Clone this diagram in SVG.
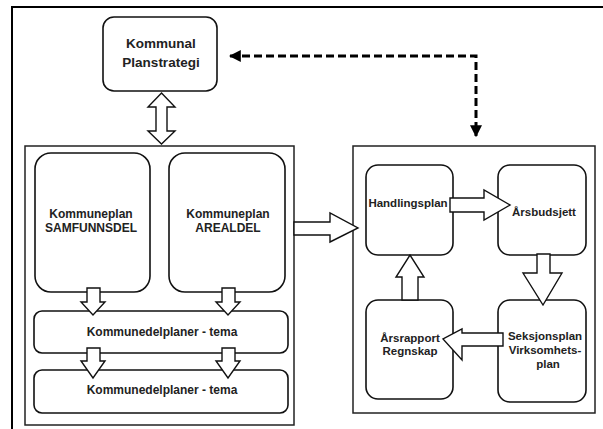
<svg xmlns="http://www.w3.org/2000/svg" width="603" height="429" viewBox="0 0 603 429">
<defs>
<style>
.frame{fill:none;stroke:#000}
.panel{fill:#fff;stroke:#222;stroke-width:1.5}
.box{fill:#fff;stroke:#111;stroke-width:1.6}
.blk{fill:#fff;stroke:#111;stroke-width:1.4;stroke-linejoin:miter}
.dash{fill:none;stroke:#000;stroke-width:3;stroke-dasharray:8 4}
text{font-family:"Liberation Sans",Arial,sans-serif;font-weight:bold;font-size:12px;fill:#222;text-anchor:middle}
.t13{font-size:13.5px}
.t11{font-size:11.5px}
</style>
<marker id="ah" viewBox="0 0 10 10" refX="9" refY="5" markerWidth="4" markerHeight="4" orient="auto-start-reverse" markerUnits="strokeWidth">
<path d="M0,0 L10,5 L0,10 z" fill="#000"/>
</marker>
</defs>
<rect width="603" height="429" fill="#fff"/>
<path d="M12 429 V7 H603" class="frame" stroke-width="2"/>

<g id="kommunal">
<rect x="103" y="17" width="114" height="74" rx="11" class="box"/>
<text class="t13" x="161" y="48">Kommunal</text>
<text class="t13" x="161" y="67">Planstrategi</text>
</g>

<g id="left-panel">
<rect x="25" y="146" width="269" height="279" class="panel"/>
</g>
<g id="samfunnsdel">
<rect x="35" y="153" width="115" height="139" rx="16" class="box"/>
<text x="91" y="218">Kommuneplan</text>
<text x="91" y="232">SAMFUNNSDEL</text>
</g>
<g id="arealdel">
<rect x="169" y="153" width="116" height="139" rx="16" class="box"/>
<text x="228" y="218">Kommuneplan</text>
<text x="228" y="232">AREALDEL</text>
</g>
<g id="tema1">
<rect x="34" y="311" width="254" height="42" rx="8" class="box"/>
<text x="162" y="336">Kommunedelplaner - tema</text>
</g>
<g id="tema2">
<rect x="34" y="370" width="254" height="43" rx="8" class="box"/>
<text x="162" y="394">Kommunedelplaner - tema</text>
</g>

<g id="right-panel">
<rect x="353" y="146" width="242" height="267" class="panel"/>
</g>
<g id="handlingsplan">
<rect x="366" y="165" width="87" height="90" rx="12" class="box"/>
<text class="t11" x="408" y="207">Handlingsplan</text>
</g>
<g id="arsbudsjett">
<rect x="498" y="165" width="88" height="90" rx="12" class="box"/>
<text class="t11" x="544" y="216">Årsbudsjett</text>
</g>
<g id="arsrapport">
<rect x="366" y="300" width="87" height="99" rx="12" class="box"/>
<text class="t11" x="410" y="342">Årsrapport</text>
<text class="t11" x="410" y="355">Regnskap</text>
</g>
<g id="seksjonsplan">
<rect x="498" y="300" width="88" height="102" rx="12" class="box"/>
<text class="t11" x="545" y="340">Seksjonsplan</text>
<text class="t11" x="545" y="354">Virksomhets-</text>
<text class="t11" x="548" y="368">plan</text>
</g>

<g id="connectors">
<polygon class="blk" points="161.5,93 175,107 167,107 167,131 175,131 161.5,144 148,131 156,131 156,107 148,107"/>
<polygon class="blk" points="87,288 100,288 100,302 105,302 93,315 81,302 87,302"/>
<polygon class="blk" points="222,288 235,288 235,302 240,302 228,315 216,302 222,302"/>
<polygon class="blk" points="87,348 100,348 100,361 105,361 93,378 81,361 87,361"/>
<polygon class="blk" points="222,348 235,348 235,361 240,361 228,378 216,361 222,361"/>
<polygon class="blk" points="294,222 330,222 330,213 358,228 330,242 330,235 294,235"/>
<polygon class="blk" points="450,198 484,198 484,190 510,205 484,220 484,212 450,212"/>
<polygon class="blk" points="537,254 550,254 550,273 562,273 543,305 523,273 537,273"/>
<polygon class="blk" points="503,333 462,333 462,329 443,339 462,360 462,346 503,346"/>
<polygon class="blk" points="402,300 418,300 418,277 424,277 410,255 396,277 402,277"/>
<path class="dash" d="M230 56 H476 V136" marker-start="url(#ah)" marker-end="url(#ah)"/>
</g>
</svg>
